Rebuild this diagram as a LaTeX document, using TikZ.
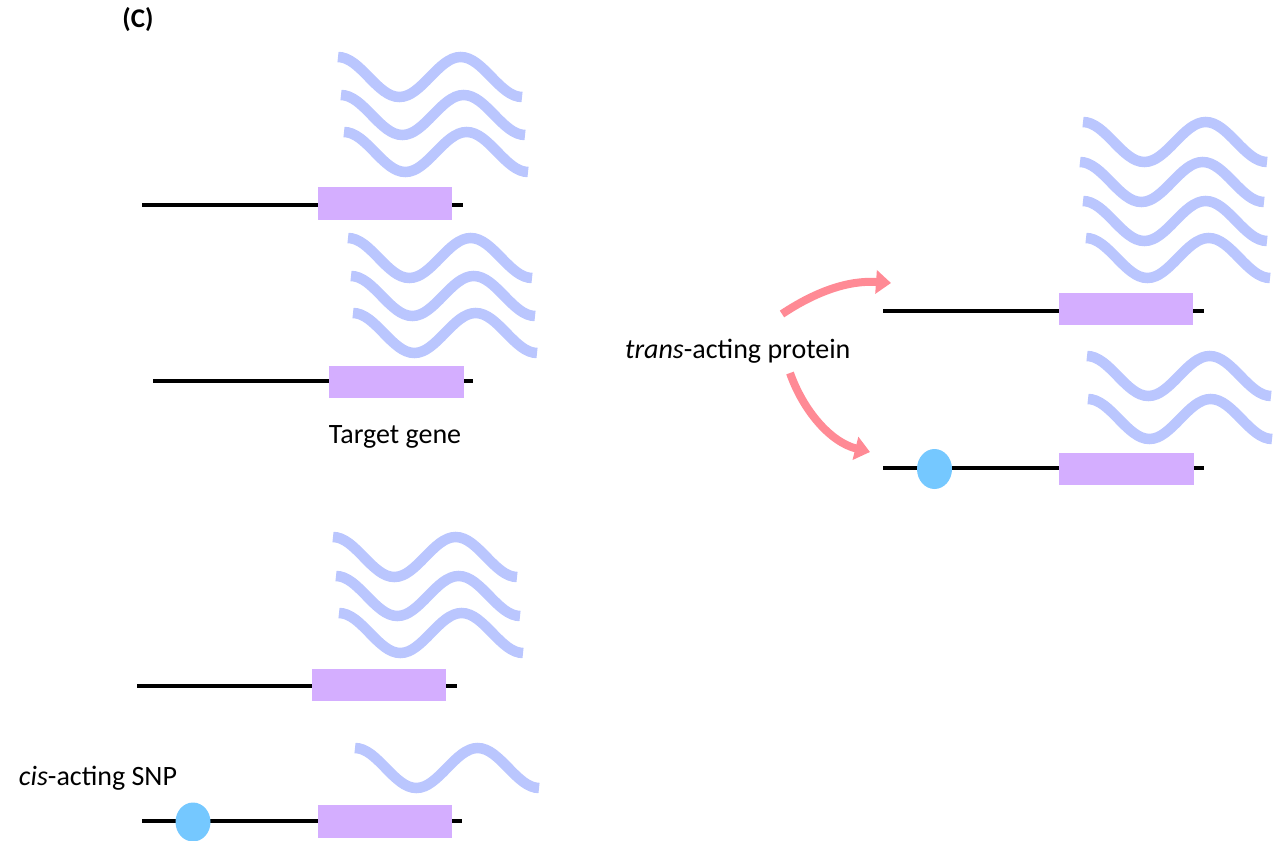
\documentclass[tikz,border=0pt]{standalone}
\usepackage{fontspec}
\setmainfont{Carlito}
\usetikzlibrary{arrows.meta,shapes.geometric}

\definecolor{rnablue}{HTML}{BAC6FE}
\definecolor{exonpurple}{HTML}{D4AEFF}
\definecolor{snpblue}{HTML}{75C8FF}
\definecolor{arrowpink}{HTML}{FF8A95}

\tikzset{
  dna/.style={line width=4pt, black},
  exon/.style={fill=exonpurple},
  rna/.style={line width=10.5pt, rnablue, line cap=butt},
  snp/.style={fill=snpblue},
  label/.style={font=\fontsize{28}{33}\selectfont, inner sep=0pt},
  effect/.style={line width=8pt, arrowpink, -{Triangle[length=15pt, width=23pt]}},
}

% one transcript: crest at (#1,#2), 1.5 periods wide
\newcommand{\transcript}[2]{%
  \draw[rna] (#1,#2) cos ++(30.67,20) sin ++(30.67,20) cos ++(30.67,-20)
    sin ++(30.67,-20) cos ++(30.67,20) sin ++(30.67,20);}

% gene: name, line x1, line x2, line y, exon x1, exon x2, exon y1, exon y2
\newcommand{\gene}[8]{%
  \coordinate (#1-start) at (#2,#4);
  \coordinate (#1-end) at (#3,#4);
  \draw[dna] (#1-start) -- (#1-end);
  \node[exon, inner sep=0pt, minimum width=#6pt-#5pt, minimum height=#8pt-#7pt]
    (#1-exon) at ({(#5+#6)/2},{(#7+#8)/2}) {};}

\begin{document}
\begin{tikzpicture}[x=1pt, y=-1pt]
\useasboundingbox (0,0) rectangle (1281,840);

\node[label, font=\fontsize{27}{32}\selectfont\bfseries] (panel) at (138,20) {(C)};

% reference allele, high expression
\transcript{338}{57}
\transcript{341}{95}
\transcript{344}{132}
\gene{ga}{142}{463}{205}{318}{452}{187}{220}

% reference allele, lower expression
\transcript{348}{238}
\transcript{351}{276}
\transcript{353}{313}
\gene{gb}{153}{473}{381}{329}{464}{366}{398}
\node[label] (target) at (395,437) {Target gene};

% cis-acting variant
\transcript{333}{537}
\transcript{336}{576}
\transcript{339}{613}
\gene{gc}{137}{457}{686}{312}{446}{669}{701}

\transcript{355}{748}
\gene{gd}{142}{462}{821}{318}{452}{805}{838}
\node[snp, ellipse, inner sep=0pt, minimum width=35pt, minimum height=39pt] (snpd) at (193,822) {};
\node[label] (cis) at (98,778) {\textit{cis}-acting SNP};

% trans-acting variant
\transcript{1083}{122}
\transcript{1080}{162}
\transcript{1083}{201}
\transcript{1086}{238}
\gene{ge}{883}{1204}{311}{1059}{1193}{293}{325}

\transcript{1087}{356}
\transcript{1088}{399}
\gene{gf}{883}{1204}{468}{1059}{1194}{453}{485}
\node[snp, ellipse, inner sep=0pt, minimum width=35pt, minimum height=40pt] (snpf) at (934.5,469) {};

\node[label, anchor=west] (trans) at (625,351) {\textit{trans}-acting protein};

\coordinate (upfrom) at (782,314);
\coordinate (upto) at (891,283);
\coordinate (downfrom) at (790,373);
\coordinate (downto) at (870,452);
\draw[effect] (upfrom) .. controls (815,292) and (848,280) .. (upto);
\draw[effect] (downfrom) .. controls (803,410) and (830,442) .. (downto);
\end{tikzpicture}
\end{document}
